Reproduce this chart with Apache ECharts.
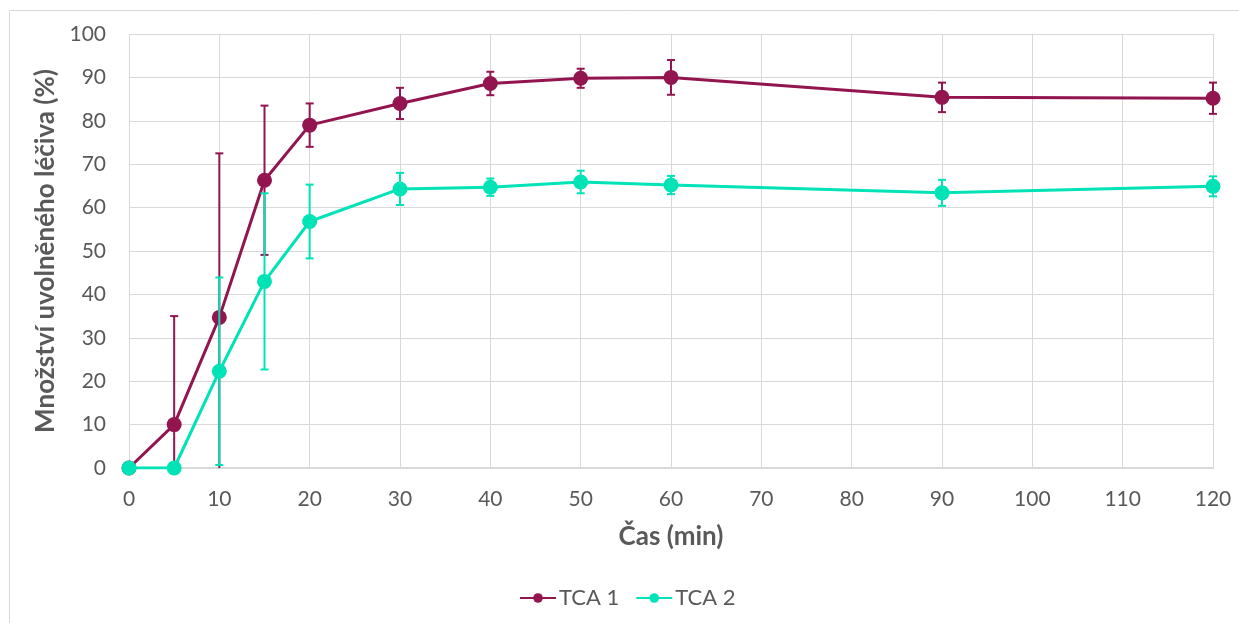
<!DOCTYPE html>
<html>
<head>
<meta charset="utf-8">
<script src="https://cdn.jsdelivr.net/npm/echarts@6/dist/echarts.min.js"></script>
<style>
  html, body { margin: 0; padding: 0; background: #fff; }
  #chart { width: 1239px; height: 623px; }
</style>
</head>
<body>
<div id="chart"></div>
<script>
// Sampling times (min)
const times = [0, 5, 10, 15, 20, 30, 40, 50, 60, 90, 120];

// Released drug amount (%) and standard deviations
const tca1 = [0, 10.0, 34.7, 66.3, 79.0, 84.0, 88.6, 89.8, 90.0, 85.4, 85.2];
const tca1Sd = [0, 25.0, 37.8, 17.2, 5.0, 3.6, 2.7, 2.2, 4.0, 3.4, 3.6];
const tca2 = [0, 0, 22.3, 43.0, 56.8, 64.3, 64.7, 65.9, 65.2, 63.4, 64.9];
const tca2Sd = [0, 0, 21.6, 20.3, 8.5, 3.7, 2.0, 2.6, 2.1, 3.0, 2.3];

const xTicks = { min: 0, max: 120, interval: 10 };
const yTicks = { min: 0, max: 100, interval: 10 };

const RED = '#921550';
const TEAL = '#00E3B7';
const TEXT = '#595959';
const GRID = '#d9d9d9';
const FONT = 'Lato';

function pairs(vals) {
  return times.map((t, i) => [t, vals[i]]);
}
function errRows(vals, sd) {
  return times.map((t, i) => [t, vals[i] - sd[i], vals[i] + sd[i]]);
}

// Vertical error bar with caps; the part below the axis minimum is cut off
function errorBar(color) {
  return function (params, api) {
    const x = api.value(0);
    let lo = api.value(1);
    const hi = api.value(2);
    if (hi === lo) return null;
    let loCap = true;
    if (lo < yTicks.min) { lo = yTicks.min; loCap = false; }
    const pHi = api.coord([x, hi]);
    const pLo = api.coord([x, lo]);
    const half = 4;
    const style = { stroke: color, lineWidth: 2 };
    const children = [
      { type: 'line', shape: { x1: pHi[0], y1: pHi[1], x2: pLo[0], y2: pLo[1] }, style },
      { type: 'line', shape: { x1: pHi[0] - half, y1: pHi[1], x2: pHi[0] + half, y2: pHi[1] }, style }
    ];
    if (loCap) {
      children.push({ type: 'line', shape: { x1: pLo[0] - half, y1: pLo[1], x2: pLo[0] + half, y2: pLo[1] }, style });
    }
    return { type: 'group', children };
  };
}

const chart = echarts.init(document.getElementById('chart'), null, { renderer: 'canvas' });

chart.setOption({
  animation: false,
  textStyle: { fontFamily: FONT },
  graphic: [{
    type: 'rect',
    shape: { x: 9.5, y: 10.5, width: 1400, height: 800 },
    style: { fill: 'none', stroke: GRID, lineWidth: 1 },
    silent: true
  }],
  grid: { left: 129, right: 26, top: 34, bottom: 155, containLabel: false },
  legend: {
    data: ['TCA 1', 'TCA 2'],
    top: 582,
    left: 514,
    itemWidth: 36,
    itemHeight: 12,
    itemGap: 16,
    textStyle: { color: TEXT, fontSize: 22, fontFamily: FONT, padding: [0, 0, 0, -2] }
  },
  xAxis: {
    type: 'value',
    min: xTicks.min, max: xTicks.max, interval: xTicks.interval,
    name: 'Čas (min)',
    nameLocation: 'middle',
    nameGap: 56,
    nameTextStyle: { color: TEXT, fontSize: 26, fontWeight: 'bold', fontFamily: FONT },
    axisLine: { show: true, lineStyle: { color: GRID, width: 2 } },
    axisTick: { show: false },
    axisLabel: { color: TEXT, fontSize: 21, margin: 21, fontFamily: FONT },
    splitLine: { show: true, lineStyle: { color: GRID, width: 1 } }
  },
  yAxis: {
    type: 'value',
    min: yTicks.min, max: yTicks.max, interval: yTicks.interval,
    name: 'Množství uvolněného léčiva (%)',
    nameLocation: 'middle',
    nameGap: 67,
    nameTextStyle: { color: TEXT, fontSize: 26, fontWeight: 'bold', fontFamily: FONT },
    axisLine: { show: false },
    axisTick: { show: false },
    axisLabel: { color: TEXT, fontSize: 21, margin: 23, fontFamily: FONT },
    splitLine: { show: true, lineStyle: { color: GRID, width: 1 } }
  },
  series: [
    {
      name: 'TCA 1',
      type: 'line',
      data: pairs(tca1),
      symbol: 'circle',
      symbolSize: 15,
      color: RED,
      lineStyle: { color: RED, width: 3 },
      itemStyle: { color: RED },
      z: 3
    },
    {
      name: 'TCA 1 SD',
      type: 'custom',
      data: errRows(tca1, tca1Sd),
      renderItem: errorBar(RED),
      encode: { x: 0, y: [1, 2] },
      z: 4
    },
    {
      name: 'TCA 2',
      type: 'line',
      data: pairs(tca2),
      symbol: 'circle',
      symbolSize: 15,
      color: TEAL,
      lineStyle: { color: TEAL, width: 3 },
      itemStyle: { color: TEAL },
      z: 5
    },
    {
      name: 'TCA 2 SD',
      type: 'custom',
      data: errRows(tca2, tca2Sd),
      renderItem: errorBar(TEAL),
      encode: { x: 0, y: [1, 2] },
      z: 6
    }
  ]
});
</script>
</body>
</html>
